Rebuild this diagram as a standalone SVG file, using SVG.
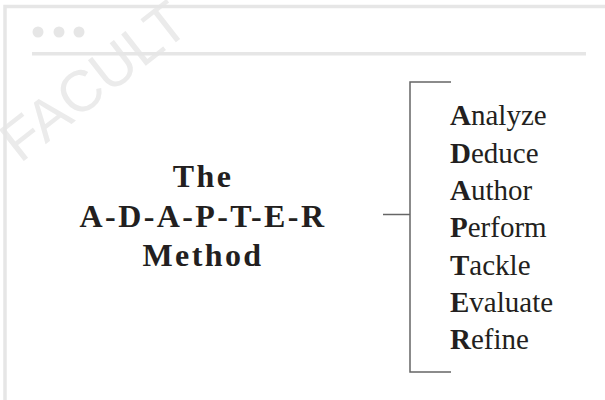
<svg xmlns="http://www.w3.org/2000/svg" width="605" height="400" viewBox="0 0 605 400">
<style>
.frame{stroke:#e6e6e6;stroke-width:3.5;fill:none}
.dot{fill:#e6e6e6}
.wm{font-family:"Liberation Sans",Arial,sans-serif;font-size:58px;fill:#ebebeb}
.title{font-family:"Liberation Serif","Times New Roman",serif;font-size:32px;font-weight:bold;fill:#231f20;letter-spacing:2.4px;text-anchor:middle}
.item{font-family:"Liberation Serif","Times New Roman",serif;font-size:29px;fill:#231f20}
.item tspan.b{font-weight:bold}
.conn{stroke:#666;stroke-width:1.5;fill:none}
</style>
<rect width="605" height="400" fill="#fff"/>
<g id="watermark">
<text class="wm" transform="translate(20,164) rotate(-38)">FACULT</text>
</g>
<g id="window">
<path class="frame" d="M5,400 V6.5 H605"/>
<line class="frame" x1="32" y1="53.7" x2="586" y2="53.7"/>
<circle class="dot" cx="38" cy="32" r="5.5"/>
<circle class="dot" cx="59" cy="32" r="5.5"/>
<circle class="dot" cx="79" cy="32" r="5.5"/>
</g>
<g id="title">
<text class="title" x="203" y="187">The</text>
<text class="title" x="203" y="227">A-D-A-P-T-E-R</text>
<text class="title" x="203" y="266">Method</text>
</g>
<g id="connectors">
<line class="conn" x1="383" y1="214.5" x2="410" y2="214.5"/>
<path class="conn" d="M451,82 H410 V372 H451"/>
</g>
<g id="list">
<text class="item" x="450" y="125"><tspan class="b">A</tspan>nalyze</text>
<text class="item" x="450" y="162.5"><tspan class="b">D</tspan>educe</text>
<text class="item" x="450" y="200"><tspan class="b">A</tspan>uthor</text>
<text class="item" x="450" y="237"><tspan class="b">P</tspan>erform</text>
<text class="item" x="450" y="274.5"><tspan class="b">T</tspan>ackle</text>
<text class="item" x="450" y="311.5"><tspan class="b">E</tspan>valuate</text>
<text class="item" x="450" y="348.5"><tspan class="b">R</tspan>efine</text>
</g>
</svg>
